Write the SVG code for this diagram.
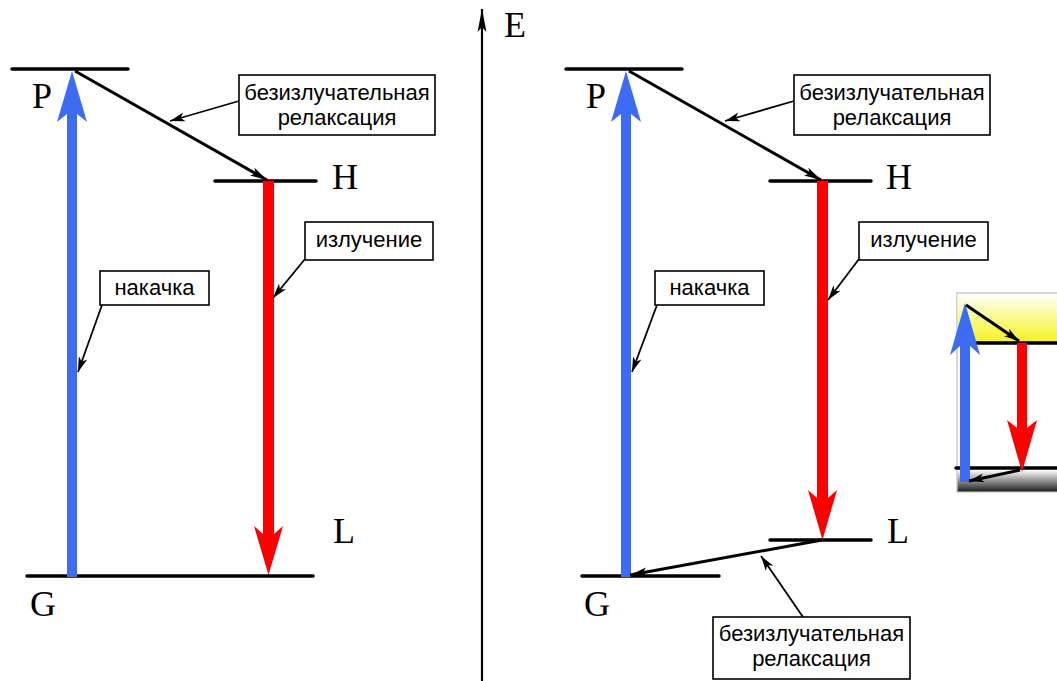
<svg xmlns="http://www.w3.org/2000/svg" width="1057" height="681" viewBox="0 0 1057 681">
  <style>
    .level { stroke: #000; stroke-width: 3.5; stroke-linecap: round; fill: none; }
    .lbl { font-family: "Liberation Serif", "Times New Roman", serif; font-size: 36px; fill: #000; }
    .box { fill: #fff; stroke: #000; stroke-width: 1.6; }
    .note { font-family: "Liberation Sans", Arial, sans-serif; font-size: 22px; fill: #000; text-anchor: middle; }
    .ptr { stroke: #000; stroke-width: 1.8; fill: none; marker-end: url(#ptrHead); }
    .relax { stroke: #000; stroke-width: 3; fill: none; marker-end: url(#relaxHead); }
    .pump { fill: #3b6cf2; }
    .emit { fill: #ff0000; }
  </style>
  <defs>
    <marker id="ptrHead" markerUnits="userSpaceOnUse" markerWidth="16" markerHeight="10" viewBox="0 0 16 10" refX="15" refY="5" orient="auto">
      <path d="M0,0.5 L15,5 L0,9.5 L4,5 Z" fill="#000"/>
    </marker>
    <marker id="relaxHead" markerUnits="userSpaceOnUse" markerWidth="18" markerHeight="10" viewBox="0 0 18 10" refX="17" refY="5" orient="auto">
      <path d="M0,0.5 L17,5 L0,9.5 L4,5 Z" fill="#000"/>
    </marker>
    <marker id="axisHead" markerUnits="userSpaceOnUse" markerWidth="24" markerHeight="10" viewBox="0 0 24 10" refX="23" refY="5" orient="auto">
      <path d="M0,0.5 L23,5 L0,9.5 L5,5 Z" fill="#000"/>
    </marker>
    <linearGradient id="upperGlow" x1="0" y1="0" x2="0" y2="1">
      <stop offset="0" stop-color="#ffffff"/>
      <stop offset="1" stop-color="#f6f21a"/>
    </linearGradient>
    <linearGradient id="lowerShade" x1="0" y1="0" x2="0" y2="1">
      <stop offset="0" stop-color="#ffffff"/>
      <stop offset="1" stop-color="#222222"/>
    </linearGradient>
  </defs>

  <!-- energy axis -->
  <g id="axis">
    <line x1="482" y1="681" x2="482" y2="9" stroke="#000" stroke-width="2.2" marker-end="url(#axisHead)"/>
    <text class="lbl" x="504" y="37">E</text>
  </g>

  <!-- left scheme: three levels -->
  <g id="left-P"><line class="level" x1="12" y1="69" x2="128" y2="69"/><text class="lbl" x="32" y="108">P</text></g>
  <g id="left-H"><line class="level" x1="215" y1="181" x2="316" y2="181"/><text class="lbl" x="332" y="189">H</text></g>
  <g id="left-L"><text class="lbl" x="333" y="543">L</text></g>
  <g id="left-G"><line class="level" x1="27" y1="576" x2="313" y2="576"/><text class="lbl" x="30" y="616">G</text></g>

  <!-- right scheme: four levels -->
  <g id="right-P"><line class="level" x1="566" y1="69" x2="682" y2="69"/><text class="lbl" x="586" y="108">P</text></g>
  <g id="right-H"><line class="level" x1="770" y1="181" x2="871" y2="181"/><text class="lbl" x="886" y="189">H</text></g>
  <g id="right-L"><line class="level" x1="770" y1="540" x2="871" y2="540"/><text class="lbl" x="887" y="543">L</text></g>
  <g id="right-G"><line class="level" x1="582" y1="576" x2="719" y2="576"/><text class="lbl" x="584" y="616">G</text></g>

  <!-- small inset sketch at the right edge -->
  <g id="inset">
    <rect x="957" y="293" width="102" height="199" fill="#fff" stroke="#bdbdbd" stroke-width="1.2"/>
    <rect x="957.6" y="294" width="101" height="49" fill="url(#upperGlow)"/>
    <rect x="957.6" y="470" width="101" height="21.5" fill="url(#lowerShade)"/>
    <line class="level" x1="975" y1="343" x2="1059" y2="343"/>
    <line class="level" x1="956" y1="468" x2="1059" y2="468"/>
    <path class="pump" d="M965,303 L980,355 L970,346 L970,482 L960,482 L960,346 L950,355 Z"/>
    <path class="emit" d="M1017,343 L1027,343 L1027,428 L1037,420 L1022,472 L1007,420 L1017,428 Z"/>
    <line x1="966" y1="305" x2="1019" y2="341" stroke="#000" stroke-width="3" marker-end="url(#ptrHead)"/>
    <line x1="1020" y1="470" x2="969" y2="481" stroke="#000" stroke-width="3" marker-end="url(#ptrHead)"/>
  </g>

  <!-- transition arrows and callout pointers -->
  <g id="connectors">
    <!-- left: pumping G->P, emission H->G, relaxation P->H -->
    <path class="pump" d="M72,71 L87,122 L77,114 L77,577 L67,577 L67,114 L57,122 Z"/>
    <path class="emit" d="M263,181 L274,181 L274,534 L283,526 L268.5,575 L254,526 L263,534 Z"/>
    <line class="relax" x1="75" y1="71" x2="267" y2="180"/>
    <line class="ptr" x1="239" y1="101" x2="170" y2="121"/>
    <line class="ptr" x1="305" y1="259" x2="273" y2="298"/>
    <line class="ptr" x1="102" y1="305" x2="78" y2="372"/>

    <!-- right: pumping G->P, relaxation P->H, emission H->L, relaxation L->G -->
    <path class="pump" d="M626,71 L641,122 L631,114 L631,577 L621,577 L621,114 L611,122 Z"/>
    <path class="emit" d="M817,181 L828,181 L828,498 L837,490 L822.5,540 L808,490 L817,498 Z"/>
    <line class="relax" x1="629" y1="71" x2="821" y2="180"/>
    <line class="relax" x1="822" y1="540" x2="630" y2="575"/>
    <line class="ptr" x1="794" y1="101" x2="725" y2="121"/>
    <line class="ptr" x1="859" y1="259" x2="828" y2="300"/>
    <line class="ptr" x1="657" y1="305" x2="632" y2="372"/>
    <line class="ptr" x1="803" y1="617" x2="761" y2="556"/>
  </g>

  <!-- callout boxes -->
  <g id="note-left-relax">
    <rect class="box" x="239" y="75" width="196" height="60"/>
    <text class="note" x="337" y="100">безизлучательная</text>
    <text class="note" x="337" y="125">релаксация</text>
  </g>
  <g id="note-left-emit">
    <rect class="box" x="305" y="222" width="128" height="38"/>
    <text class="note" x="369" y="247">излучение</text>
  </g>
  <g id="note-left-pump">
    <rect class="box" x="100" y="271" width="109" height="34"/>
    <text class="note" x="154.5" y="295">накачка</text>
  </g>
  <g id="note-right-relax">
    <rect class="box" x="794" y="75" width="196" height="60"/>
    <text class="note" x="892" y="100">безизлучательная</text>
    <text class="note" x="892" y="125">релаксация</text>
  </g>
  <g id="note-right-emit">
    <rect class="box" x="859" y="222" width="129" height="38"/>
    <text class="note" x="923.5" y="247">излучение</text>
  </g>
  <g id="note-right-pump">
    <rect class="box" x="655" y="271" width="109" height="34"/>
    <text class="note" x="709.5" y="295">накачка</text>
  </g>
  <g id="note-bottom-relax">
    <rect class="box" x="713" y="617" width="197" height="62"/>
    <text class="note" x="811.5" y="641">безизлучательная</text>
    <text class="note" x="811.5" y="666">релаксация</text>
  </g>
</svg>
